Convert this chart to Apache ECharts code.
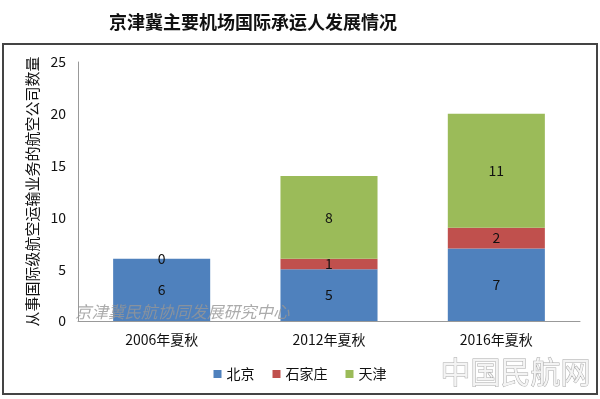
<!DOCTYPE html>
<html>
<head>
<meta charset="utf-8">
<script src="https://cdn.jsdelivr.net/npm/echarts@6/dist/echarts.min.js"></script>
<style>
  html, body { margin: 0; padding: 0; background: #fff; }
  #myEcharts { width: 600px; height: 399px; }
</style>
</head>
<body>
<div id="myEcharts"></div>
<script>
// 数据
const categories = ["2006年夏秋", "2012年夏秋", "2016年夏秋"];
const beijing = [6, 5, 7];
const shijiazhuang = [0, 1, 2];
const tianjin = [0, 8, 11];

const font = "'Noto Sans CJK SC', sans-serif";

const chart = echarts.init(document.getElementById("myEcharts"));

const labelStyle = {
  show: true,
  position: "inside",
  color: "#111",
  fontSize: 14,
  fontFamily: font,
};

chart.setOption({
  animation: false,
  textStyle: { fontFamily: font },
  title: {
    text: "京津冀主要机场国际承运人发展情况",
    left: 248,
    top: 8,
    textAlign: "center",
    textStyle: { fontSize: 18, fontWeight: "bold", color: "#111", fontFamily: font },
  },
  // 外框和水印
  graphic: [
    {
      type: "rect",
      shape: { x: 3, y: 44, width: 594, height: 350 },
      style: { fill: "none", stroke: "#444", lineWidth: 2 },
      z: 0,
    },
    {
      type: "text",
      left: 75,
      top: 303,
      style: {
        text: "京津冀民航协同发展研究中心",
        fill: "rgba(150,150,150,0.8)",
        font: "italic 16.5px " + font,
      },
      z: 100,
    },
    {
      type: "text",
      left: 440,
      top: 356,
      style: {
        text: "中国民航网",
        fill: "#f4f4f4",
        stroke: "#aaa",
        lineWidth: 1,
        font: "30px " + font,
      },
      z: 100,
    },
  ],
  legend: {
    data: ["北京", "石家庄", "天津"],
    left: "center",
    top: 362,
    itemWidth: 8,
    itemHeight: 8,
    itemGap: 18,
    icon: "rect",
    textStyle: { fontSize: 14, color: "#111", fontFamily: font },
  },
  grid: {
    left: 78,
    right: 20,
    top: 62,
    bottom: 78,
    containLabel: false,
  },
  xAxis: {
    type: "category",
    data: categories,
    axisLine: { lineStyle: { color: "#999" } },
    axisTick: { show: false },
    axisLabel: { fontSize: 14, color: "#111", margin: 12, fontFamily: font },
  },
  yAxis: {
    type: "value",
    min: 0,
    max: 25,
    interval: 5,
    name: "从事国际级航空运输业务的航空公司数量",
    nameLocation: "middle",
    nameRotate: 90,
    nameGap: 38,
    nameTextStyle: { fontSize: 15, color: "#111", fontFamily: font },
    axisLine: { show: true, lineStyle: { color: "#999" } },
    axisTick: { show: false },
    splitLine: { show: false },
    axisLabel: { fontSize: 14, color: "#111", margin: 12, fontFamily: font },
  },
  series: [
    {
      name: "北京",
      type: "bar",
      stack: "total",
      barCategoryGap: "42%",
      itemStyle: { color: "#4F81BD" },
      label: labelStyle,
      data: beijing,
    },
    {
      name: "石家庄",
      type: "bar",
      stack: "total",
      itemStyle: { color: "#C0504D" },
      label: labelStyle,
      data: shijiazhuang,
    },
    {
      name: "天津",
      type: "bar",
      stack: "total",
      itemStyle: { color: "#9BBB59" },
      label: Object.assign({}, labelStyle, {
        formatter: p => (p.value ? String(p.value) : ""),
      }),
      data: tianjin,
    },
  ],
});
</script>
</body>
</html>
